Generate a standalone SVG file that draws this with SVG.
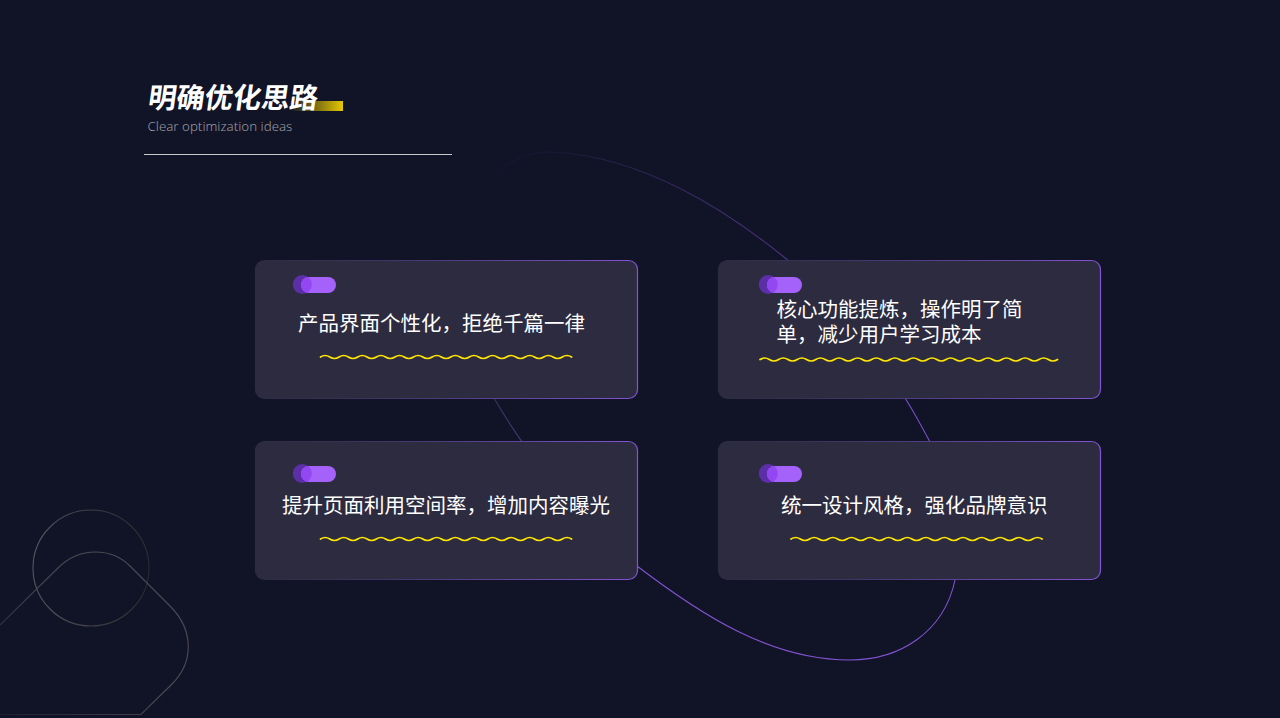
<svg xmlns="http://www.w3.org/2000/svg" width="1280" height="718" viewBox="0 0 1280 718">
<style>
text{font-family:"Noto Sans CJK SC","Noto Sans",sans-serif}
.t{font-size:20.5px;fill:#fff;font-weight:400}
.card{fill:#2d2b40;stroke-width:1.2}
.wave{fill:none;stroke:#ffe600;stroke-width:1.7;stroke-linecap:round}
.deco{fill:none;stroke-width:1.1}
</style>
<defs>
<linearGradient id="gBar" x1="0" x2="1" y1="0" y2="0"><stop offset="0" stop-color="#e6c800" stop-opacity="0"/><stop offset="1" stop-color="#e6c800"/></linearGradient>
<linearGradient id="gBorder" x1="0" y1="0.5" x2="1" y2="0.5"><stop offset="0" stop-color="#2d2b40"/><stop offset="0.35" stop-color="#3f3566"/><stop offset="1" stop-color="#8353d2"/></linearGradient>
<linearGradient id="gTop" gradientUnits="userSpaceOnUse" x1="480" y1="150" x2="800" y2="262"><stop offset="0" stop-color="#7a4fd0" stop-opacity="0"/><stop offset="0.25" stop-color="#7a4fd0" stop-opacity="0.12"/><stop offset="1" stop-color="#7a4fd0" stop-opacity="0.6"/></linearGradient>
<linearGradient id="gLeft" gradientUnits="userSpaceOnUse" x1="490" y1="400" x2="640" y2="570"><stop offset="0" stop-color="#5a4a90" stop-opacity="0.55"/><stop offset="1" stop-color="#8353d2"/></linearGradient>
<linearGradient id="gDeco" gradientUnits="userSpaceOnUse" x1="0" y1="718" x2="190" y2="560"><stop offset="0" stop-color="#4a4a52" stop-opacity="0.2"/><stop offset="0.6" stop-color="#4c4c54"/><stop offset="1" stop-color="#48484f"/></linearGradient>
<linearGradient id="gCircle" x1="0" y1="0.5" x2="1" y2="0.5"><stop offset="0" stop-color="#55555c"/><stop offset="1" stop-color="#2a2a30"/></linearGradient>
<path id="w252" class="wave" d="M0 0q4.65 -3 9.300 0t9.300 0t9.300 0t9.300 0t9.300 0t9.300 0t9.300 0t9.300 0t9.300 0t9.300 0t9.300 0t9.300 0t9.300 0t9.300 0t9.300 0t9.300 0t9.300 0t9.300 0t9.300 0t9.300 0t9.300 0t9.300 0t9.300 0t9.300 0t9.300 0t9.300 0t9.300 0"/>
<path id="w298" class="wave" d="M0 0q4.65 -3 9.300 0t9.300 0t9.300 0t9.300 0t9.300 0t9.300 0t9.300 0t9.300 0t9.300 0t9.300 0t9.300 0t9.300 0t9.300 0t9.300 0t9.300 0t9.300 0t9.300 0t9.300 0t9.300 0t9.300 0t9.300 0t9.300 0t9.300 0t9.300 0t9.300 0t9.300 0t9.300 0t9.300 0t9.300 0t9.300 0t9.300 0t9.300 0"/>
<clipPath id="pillClip"><rect x="8" y="2" width="35" height="16" rx="8"/></clipPath>
<g id="toggle"><circle cx="9.300" cy="9.500" r="9.500" fill="#5c2fa8"/><rect x="8" y="2" width="35" height="16" rx="8" fill="#a562fb"/><circle cx="9.300" cy="9.500" r="9.500" fill="#9347f3" clip-path="url(#pillClip)"/></g>
</defs>
<rect width="1280" height="718" fill="#111326"/>
<g id="decor">
<circle class="deco" cx="91" cy="568" r="58" stroke="url(#gCircle)"/>
<path class="deco" stroke="url(#gDeco)" d="M0 625L58 568C80 546 112 548 130 566L170 606C194 630 194 662 172 684L141 714.500H0"/>
<rect x="290" y="101" width="53" height="10" fill="url(#gBar)"/>
<rect x="144" y="154" width="308" height="1" fill="#c8c9ce"/>
</g>
<g id="connectors">
<path class="deco" stroke="url(#gTop)" d="M447 265C458 195 505 151 552 152C640 156 725 208 790 262"/>
<path class="deco" stroke="#7a4fd0" d="M905 398C914 412 922 427 930 442"/>
<path class="deco" stroke="#8353d2" d="M955 580C944 632 900 660 850 660C770 660 700 614 637 566"/>
<path class="deco" stroke="url(#gLeft)" d="M637 566C580 520 530 460 494 398"/>
</g>
<g id="title">
<text transform="translate(147 108) skewX(-8)" font-size="28.300" font-weight="700" fill="#fff">明确优化思路</text>
<text x="147.500" y="131" font-size="13.300" font-weight="300" fill="#9a9ba3" style="font-family:'Noto Sans',sans-serif">Clear optimization ideas</text>
</g>
<g id="card1">
<rect class="card" x="255.500" y="260.500" width="382" height="138" rx="9" stroke="url(#gBorder)"/>
<use href="#toggle" x="293" y="275"/>
<text class="t" x="298" y="331">产品界面个性化，拒绝千篇一律</text>
<use href="#w252" x="320.500" y="357"/>
</g>
<g id="card2">
<rect class="card" x="718.500" y="260.500" width="382" height="138" rx="9" stroke="url(#gBorder)"/>
<use href="#toggle" x="759" y="275"/>
<text class="t"><tspan x="776.500" y="317">核心功能提炼，操作明了简</tspan><tspan x="776.500" y="342">单，减少用户学习成本</tspan></text>
<use href="#w298" x="760" y="359.500"/>
</g>
<g id="card3">
<rect class="card" x="255.500" y="441.500" width="382" height="138" rx="9" stroke="url(#gBorder)"/>
<use href="#toggle" x="293" y="464"/>
<text class="t" x="282" y="513">提升页面利用空间率，增加内容曝光</text>
<use href="#w252" x="320.500" y="539"/>
</g>
<g id="card4">
<rect class="card" x="718.500" y="441.500" width="382" height="138" rx="9" stroke="url(#gBorder)"/>
<use href="#toggle" x="759" y="464"/>
<text class="t" x="781" y="513">统一设计风格，强化品牌意识</text>
<use href="#w252" x="791" y="539"/>
</g>
</svg>
